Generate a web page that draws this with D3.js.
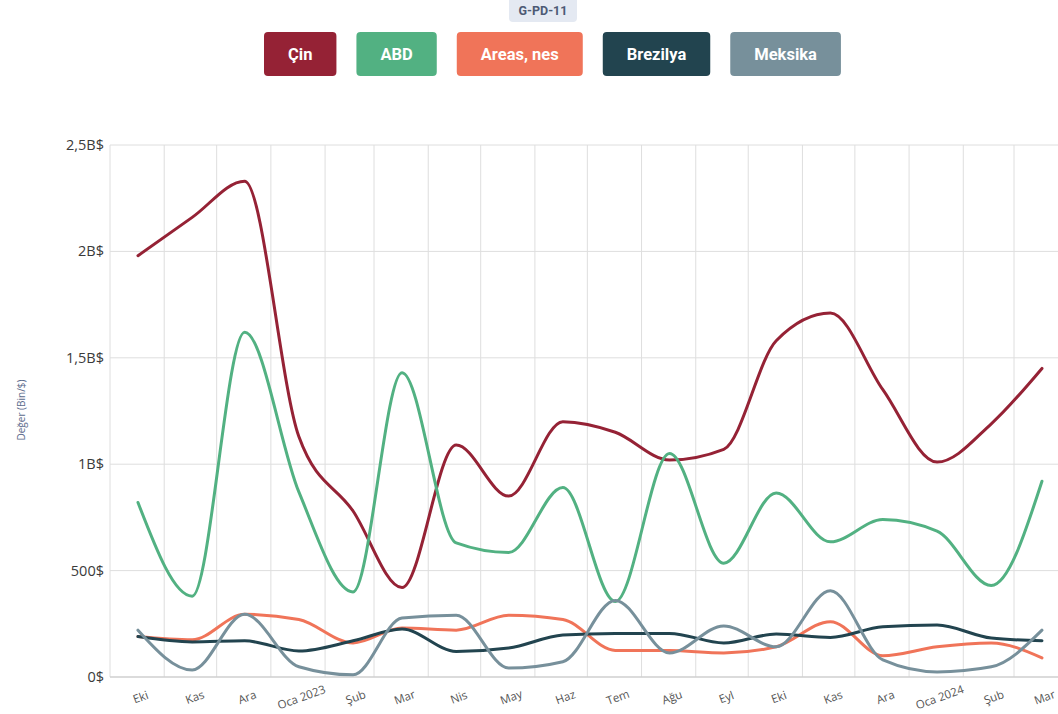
<!DOCTYPE html>
<html>
<head>
<meta charset="utf-8">
<script src="https://cdn.jsdelivr.net/npm/d3@7"></script>
<style>
  html, body { margin: 0; padding: 0; background: #fff; }
  svg { display: block; }
</style>
</head>
<body>
<svg id="chart" width="1058" height="714"></svg>
<script>
// ---- data ----
const months = ["2022-10","2022-11","2022-12","2023-01","2023-02","2023-03","2023-04","2023-05","2023-06",
                "2023-07","2023-08","2023-09","2023-10","2023-11","2023-12","2024-01","2024-02","2024-03"];
const monthLabels = ["Eki","Kas","Ara","Oca 2023","Şub","Mar","Nis","May","Haz",
                     "Tem","Ağu","Eyl","Eki","Kas","Ara","Oca 2024","Şub","Mar"];
const seriesNames = ["Çin","ABD","Areas, nes","Brezilya","Meksika"];
const seriesColors = ["#952235","#52b182","#f07459","#22444f","#77909b"];
// values in billions of $
const cin      = [1.98,2.16,2.33,1.13,0.78,0.42,1.09,0.85,1.20,1.15,1.02,1.07,1.58,1.71,1.35,1.01,1.19,1.45];
const abd      = [0.82,0.38,1.62,0.87,0.40,1.43,0.63,0.585,0.89,0.355,1.05,0.535,0.865,0.635,0.74,0.685,0.43,0.92];
const areasNes = [0.19,0.175,0.295,0.27,0.16,0.23,0.22,0.29,0.27,0.125,0.124,0.113,0.142,0.26,0.10,0.142,0.16,0.09];
const brezilya = [0.19,0.165,0.17,0.122,0.17,0.225,0.12,0.136,0.197,0.205,0.205,0.16,0.202,0.186,0.236,0.244,0.183,0.17];
const meksika  = [0.22,0.033,0.295,0.048,0.01,0.277,0.29,0.042,0.072,0.36,0.113,0.24,0.142,0.405,0.08,0.024,0.048,0.22];
const yTickValues = [0,0.5,1,1.5,2,2.5];
const yTickLabels = ["0$","500$","1B$","1,5B$","2B$","2,5B$"];
const badgeText = "G-PD-11";
const yAxisTitle = "Değer (Bin/$)";

const allSeries = [cin, abd, areasNes, brezilya, meksika];

// ---- layout ----
const svg = d3.select("#chart");
const plotTop = 145, plotBottom = 677, plotLeft = 110;
const parseMonth = d3.timeParse("%Y-%m");
const monthStart = months.map(parseMonth);
const midMonth = monthStart.map(d => d3.timeDay.offset(d, 16));

const x = d3.scaleTime()
  .domain([new Date(2022, 9, 1), new Date(2024, 2, 1)])
  .range([plotLeft, 1014]);
const y = d3.scaleLinear().domain([0, 2.5]).range([plotBottom, plotTop]);
const plotRight = 1068;

// gridlines
const grid = svg.append("g");
const gridMonths = d3.timeMonth.range(new Date(2022, 9, 1), new Date(2024, 2, 2));
grid.selectAll("line.v").data(gridMonths).enter().append("line")
  .attr("x1", d => x(d)).attr("x2", d => x(d))
  .attr("y1", plotTop).attr("y2", plotBottom)
  .attr("stroke", "#dedede").attr("stroke-width", 1);
grid.selectAll("line.h").data(yTickValues).enter().append("line")
  .attr("x1", plotLeft).attr("x2", plotRight)
  .attr("y1", d => y(d)).attr("y2", d => y(d))
  .attr("stroke", d => d === 0 ? "#cfcfcf" : "#dedede")
  .attr("stroke-width", d => d === 0 ? 1.5 : 1);

// y axis labels
svg.append("g").selectAll("text").data(yTickValues).enter().append("text")
  .attr("x", plotLeft - 6).attr("y", d => y(d))
  .attr("dy", "0.35em").attr("text-anchor", "end")
  .attr("font-family", "'Open Sans', sans-serif").attr("font-size", 14.5)
  .attr("fill", "#3a3a3a")
  .text((d, i) => yTickLabels[i]);

svg.append("text")
  .attr("transform", `translate(21,410) rotate(-90)`)
  .attr("text-anchor", "middle").attr("dy", "0.35em")
  .attr("font-family", "'Open Sans', sans-serif").attr("font-size", 10)
  .attr("fill", "#5b6b8c")
  .text(yAxisTitle);

// x axis labels
svg.append("g").selectAll("text").data(midMonth).enter().append("text")
  .attr("transform", d => `translate(${x(d) + 4},701) rotate(-20)`)
  .attr("text-anchor", "middle")
  .attr("font-family", "'Open Sans', sans-serif").attr("font-size", 11.5)
  .attr("fill", "#555")
  .text((d, i) => monthLabels[i]);

// lines
const line = d3.line()
  .x((d, i) => x(midMonth[i]))
  .y(d => y(d))
  .curve(d3.curveMonotoneX);
svg.append("g").selectAll("path").data(allSeries).enter().append("path")
  .attr("d", d => line(d))
  .attr("fill", "none")
  .attr("stroke", (d, i) => seriesColors[i])
  .attr("stroke-width", 3)
  .attr("stroke-linejoin", "round")
  .attr("stroke-linecap", "round");

// badge
const badge = svg.append("g");
badge.append("rect").attr("x", 509).attr("y", -4).attr("width", 68).attr("height", 26)
  .attr("rx", 4).attr("fill", "#e4e9f2");
badge.append("text").attr("x", 543).attr("y", 11).attr("dy", "0.35em")
  .attr("text-anchor", "middle")
  .attr("font-family", "Roboto, sans-serif").attr("font-weight", 700).attr("font-size", 12.5)
  .attr("fill", "#4d5a75").text(badgeText);

// legend
const legend = svg.append("g");
let lx = 264;
seriesNames.forEach((name, i) => {
  const g = legend.append("g");
  const t = g.append("text")
    .attr("y", 54).attr("dy", "0.35em").attr("text-anchor", "middle")
    .attr("font-family", "Roboto, sans-serif").attr("font-weight", 700).attr("font-size", 16.5)
    .attr("fill", "#fff").text(name);
  const w = t.node().getComputedTextLength() + 48;
  g.insert("rect", "text").attr("x", lx).attr("y", 32).attr("width", w).attr("height", 44)
    .attr("rx", 4).attr("fill", seriesColors[i]);
  t.attr("x", lx + w / 2);
  lx += w + 20;
});
</script>
</body>
</html>
